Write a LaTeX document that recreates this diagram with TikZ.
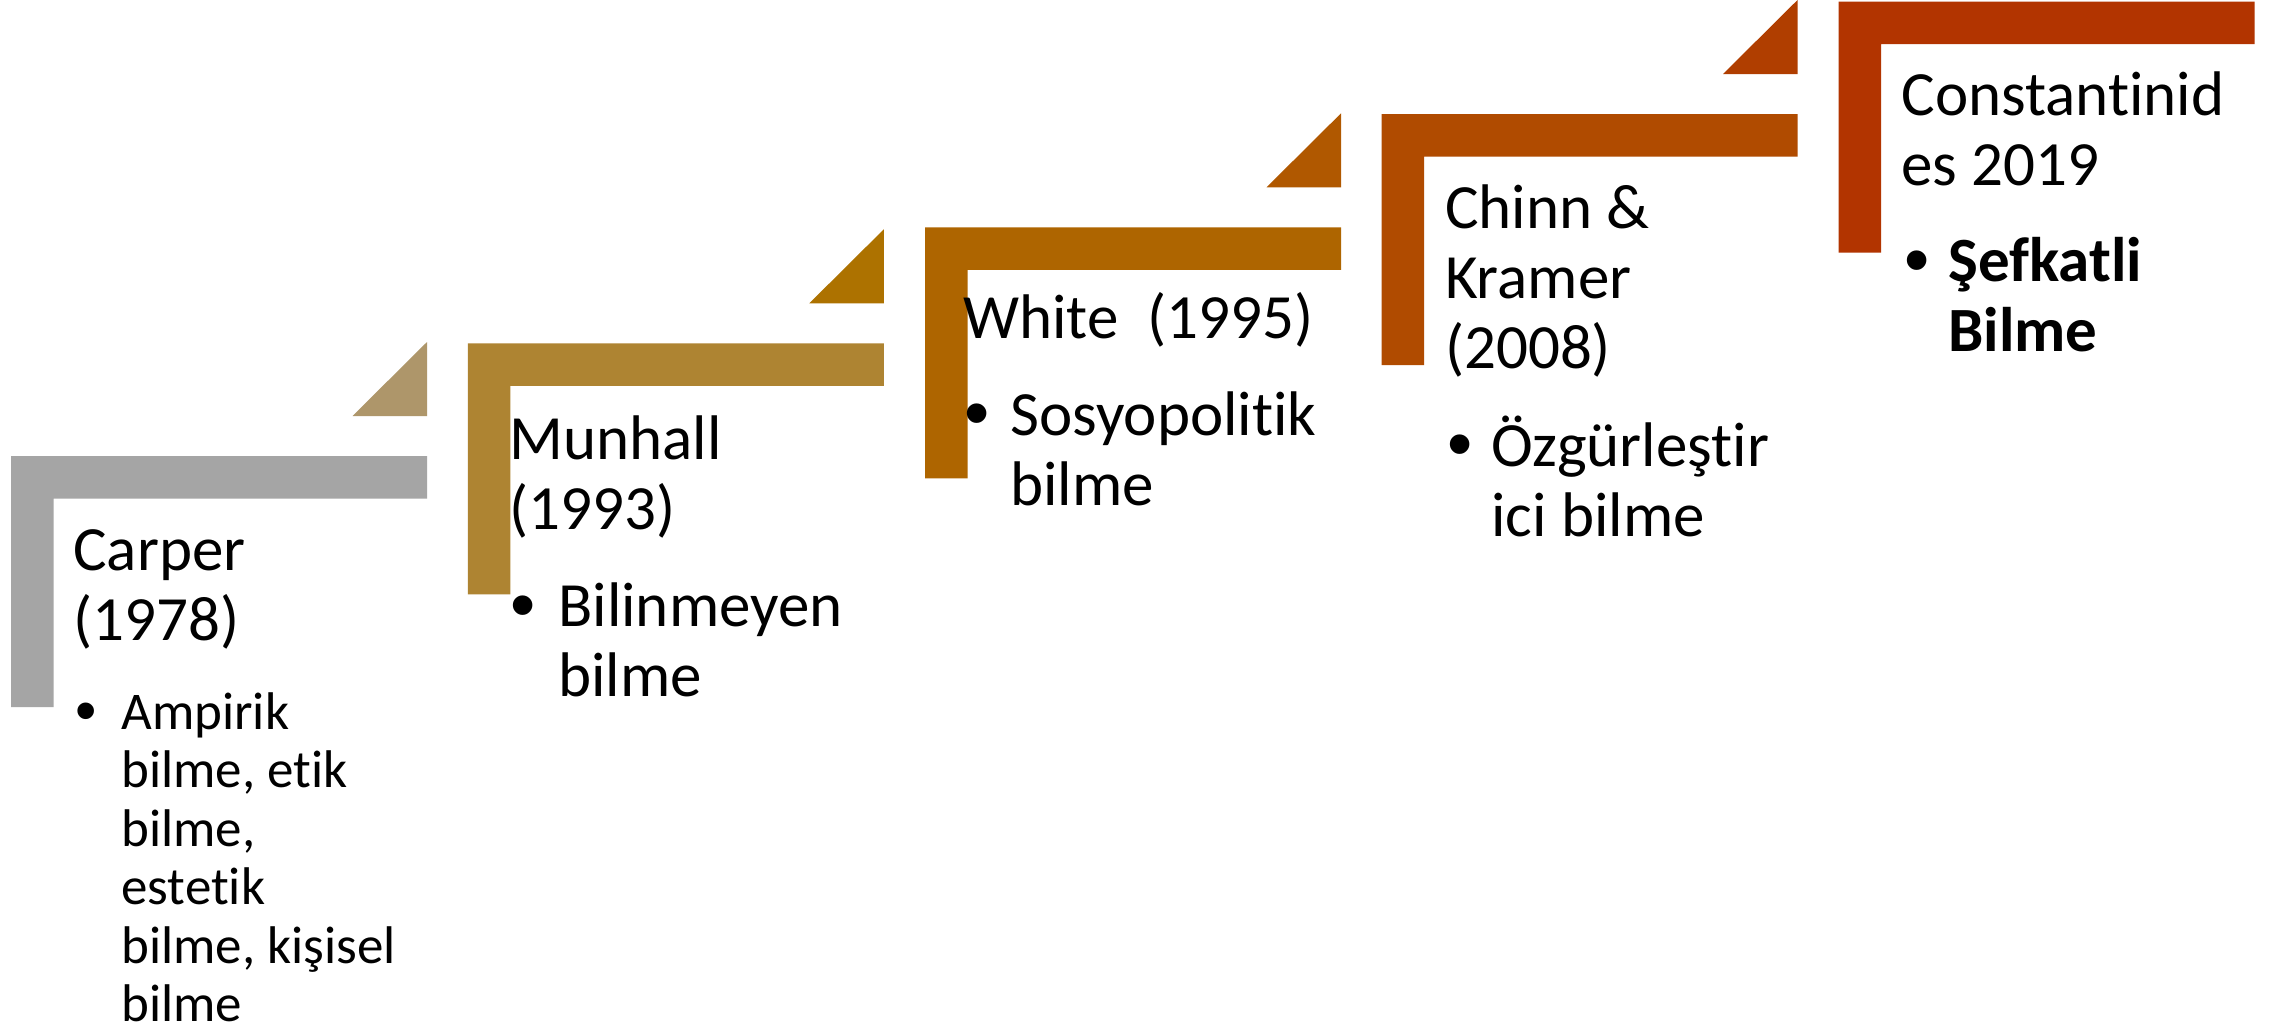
\documentclass[tikz,border=0pt]{standalone}
\usepackage{fontspec}
\setmainfont{Carlito}[Ligatures={NoCommon,NoRare,NoContextual}]
\newfontfamily\bulletfont{Liberation Sans}
\definecolor{cgray}{HTML}{A5A5A5}
\definecolor{ctriA}{HTML}{AE966A}
\definecolor{cstepB}{HTML}{AE8432}
\definecolor{ctriB}{HTML}{AD7200}
\definecolor{cstepC}{HTML}{AE6500}
\definecolor{ctriC}{HTML}{B05800}
\definecolor{cstepD}{HTML}{B04B00}
\definecolor{ctriD}{HTML}{B03E00}
\definecolor{cstepE}{HTML}{B23400}
\newcommand\txtblock[1]{\parbox[t]{400pt}{\raggedright #1}}
\newcommand\stepshape[3]{\fill[#3] (#1,#2) -- ++(416,0) -- ++(0,42.5) -- ++(-373.5,0) -- ++(0,208.5) -- ++(-42.5,0) -- cycle;}
\newcommand\steptri[3]{\fill[#3] (#1,#2) -- ++(0,74) -- ++(-74.5,0) -- cycle;}
\tikzset{
  headtxt/.style={anchor=base west, inner sep=0pt, font=\fontsize{31.5pt}{35pt}\selectfont},
  bodytxt/.style={anchor=base west, inner sep=0pt, font=\fontsize{31.5pt}{35pt}\selectfont},
  smalltxt/.style={anchor=base west, inner sep=0pt, font=\fontsize{26.5pt}{29.25pt}\selectfont},
  bulletmark/.style={anchor=base, inner sep=0pt, font=\bulletfont\fontsize{36pt}{40pt}\selectfont},
  smallbullet/.style={anchor=base, inner sep=0pt, font=\bulletfont\fontsize{30.5pt}{34pt}\selectfont},
}
\begin{document}
\begin{tikzpicture}[x=0.5pt,y=-0.5pt]
\useasboundingbox (0,0) rectangle (2290,1028);
\fill[white] (0,0) rectangle (2290,1028);
% step shapes
\stepshape{11}{456}{cgray}
\stepshape{467.8}{343.3}{cstepB}
\stepshape{925}{227.3}{cstepC}
\stepshape{1381.5}{114}{cstepD}
\stepshape{1838.5}{1.7}{cstepE}
% corner triangles
\steptri{427}{342}{ctriA}
\steptri{883.8}{229.3}{ctriB}
\steptri{1341}{113.3}{ctriC}
\steptri{1797.5}{0}{ctriD}
% step 1
\node[headtxt] (h1) at (73,570) {\txtblock{Carper\\(1978)}};
\node[smallbullet] (d1) at (86,731) {•};
\node[smalltxt] (t1) at (121,729) {\txtblock{Ampirik\\bilme, etik\\bilme,\\estetik\\bilme, kişisel\\bilme}};
% step 2
\node[headtxt] (h2) at (509,459.3) {\txtblock{Munhall\\(1993)}};
\node[bulletmark] (d2) at (522.7,629) {•};
\node[bodytxt] (t2) at (558,626.7) {\txtblock{Bilinmeyen\\bilme}};
% step 3
\node[headtxt] (h3) at (963,338.3) {\txtblock{White\ \ (1995)}};
\node[bulletmark] (d3) at (977,437) {•};
\node[bodytxt] (t3) at (1010,435) {\txtblock{Sosyopolitik\\bilme}};
% step 4
\node[headtxt] (h4) at (1444.7,228.6) {\txtblock{Chinn \&\\Kramer\\(2008)}};
\node[bulletmark] (d4) at (1460,468) {•};
\node[bodytxt] (t4) at (1491,466) {\txtblock{Özgürleştir\\ici bilme}};
% step 5
\node[headtxt] (h5) at (1901,115) {\txtblock{Constantinid\\es 2019}};
\node[bulletmark] (d5) at (1916.7,284) {•};
\node[bodytxt] (t5) at (1948,281.7) {\txtblock{\bfseries Şefkatli\\Bilme}};
\end{tikzpicture}
\end{document}
